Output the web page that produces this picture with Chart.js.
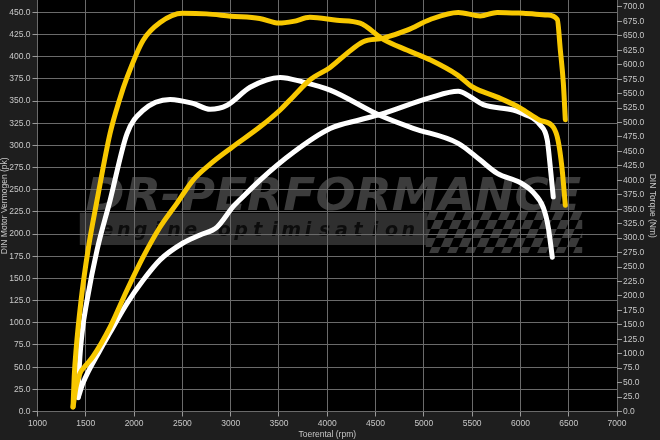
<!DOCTYPE html>
<html>
<head>
<meta charset="utf-8">
<script src="https://cdn.jsdelivr.net/npm/chart.js@4.4.1/dist/chart.umd.min.js"></script>
<style>
  html, body { margin: 0; padding: 0; background: #1e1e1e; }
  #wrap { width: 660px; height: 440px; }
</style>
</head>
<body>
<div id="wrap"><canvas id="dynoChart"></canvas></div>
<script>
// Dyno run: tuned (yellow) vs stock (white)
const tunedPowerRpm = [1368, 1400, 1440, 1500, 1575, 1751, 1927, 2093, 2269, 2445, 2611, 2800, 3015, 3305, 3512, 3647, 3823, 4030, 4206, 4372, 4579, 4828, 5066, 5356, 5584, 5760, 6029, 6278, 6382, 6413, 6444, 6465];
const tunedPowerPk = [5, 28, 43, 52, 62, 95, 137, 174, 208, 235, 261, 280, 298, 321, 340, 355, 374, 388, 404, 417, 421, 430, 442, 450, 446, 450, 449, 447, 442, 408, 371, 329];

const tunedTorqueRpm = [1368, 1380, 1399, 1451, 1523, 1616, 1751, 1850, 1927, 2093, 2269, 2500, 2750, 3000, 3300, 3500, 3650, 3820, 4100, 4340, 4580, 4830, 5070, 5350, 5510, 5760, 6000, 6200, 6340, 6390, 6430, 6465];
const tunedTorqueNm = [8, 60, 106, 192, 279, 365, 481, 540, 578, 642, 673, 689, 688, 684, 680, 672, 675, 682, 677, 672, 644, 625, 608, 582, 561, 544, 525, 504, 492, 469, 422, 357];

const stockPowerRpm = [1422, 1471, 1647, 1751, 1927, 2093, 2269, 2507, 2683, 2859, 3025, 3098, 3305, 3647, 4030, 4341, 4548, 5066, 5356, 5480, 5615, 5926, 5998, 6205, 6278, 6309, 6340];
const stockPowerPk = [16, 32, 69, 89, 122, 148, 171, 190, 199, 208, 231, 239, 261, 292, 319, 329, 335, 354, 361, 355, 346, 340, 337, 323, 306, 276, 242];

const stockTorqueRpm = [1422, 1428, 1461, 1513, 1616, 1751, 1927, 2093, 2373, 2611, 2787, 2963, 3201, 3512, 3750, 4030, 4548, 4890, 5356, 5584, 5760, 5998, 6132, 6236, 6288, 6330];
const stockTorqueNm = [24, 60, 135, 192, 279, 365, 481, 521, 540, 533, 523, 530, 561, 578, 570, 556, 512, 490, 464, 435, 412, 396, 379, 353, 319, 267];

const YELLOW = '#f8c800';
const WHITE = '#ffffff';
const LABEL = '#c8c8c8';
const GRID = '#6a6a6a';

function toPoints(xs, ys) {
  return xs.map((x, i) => ({ x: x, y: ys[i] }));
}

/**
 * Background, black plot area and the faded tuner logo behind the grid
 */
const dynoBackground = {
  id: 'dynoBackground',
  beforeDraw(chart) {
    const { ctx, chartArea: a } = chart;
    const w = a.right - a.left;
    ctx.save();
    ctx.fillStyle = '#1e1e1e';
    ctx.fillRect(0, 0, chart.width, chart.height);
    ctx.fillStyle = '#000000';
    ctx.fillRect(a.left, a.top, w, a.bottom - a.top);

    // grey band under the logo
    const bandX = a.left + w * 0.073;
    const bandY = a.top + 213;
    ctx.fillStyle = '#2f2f2f';
    ctx.fillRect(bandX, bandY, w * 0.6, 32);

    // checkered flag
    ctx.save();
    ctx.beginPath();
    ctx.rect(a.left + w * 0.67, bandY - 4, w * 0.27, 44);
    ctx.clip();
    ctx.fillStyle = '#3a3a3a';
    const sq = 9;
    for (let i = 0; i < 20; i++) {
      for (let j = 0; j < 5; j++) {
        if ((i + j) % 2 === 0) {
          const x0 = a.left + w * 0.67 + i * sq - j * 4;
          const y0 = bandY - 2 + j * sq;
          ctx.beginPath();
          ctx.moveTo(x0 + 4, y0);
          ctx.lineTo(x0 + sq + 4, y0);
          ctx.lineTo(x0 + sq, y0 + sq);
          ctx.lineTo(x0, y0 + sq);
          ctx.closePath();
          ctx.fill();
        }
      }
    }
    ctx.restore();

    // big logo text
    const logo = 'DR-PERFORMANCE';
    ctx.font = 'italic bold 44px "DejaVu Sans"';
    const tw = ctx.measureText(logo).width;
    const targetW = w * 0.855;
    ctx.save();
    ctx.translate(a.left + w * 0.083, a.top + 210);
    ctx.scale(targetW / tw, 1);
    ctx.fillStyle = '#3c3c3c';
    ctx.textBaseline = 'alphabetic';
    ctx.fillText(logo, 0, 0);
    ctx.restore();

    // spaced subtitle
    const sub = 'engine optimisation';
    ctx.font = 'italic bold 19px "DejaVu Sans"';
    ctx.fillStyle = '#0c0c0c';
    ctx.textAlign = 'center';
    let sx = a.left + w * 0.12;
    const step = (w * 0.52) / (sub.length - 1);
    for (const ch of sub) {
      ctx.fillText(ch, sx, a.top + 236);
      sx += step;
    }
    ctx.restore();
  }
};

const tickFont = { family: '"Liberation Sans", Arial, sans-serif', size: 8.5 };

const ctx = document.getElementById('dynoChart').getContext('2d');
const dynoChart = new Chart(ctx, {
  type: 'line',
  data: {
    datasets: [
      {
        label: 'Vermogen tuned',
        data: toPoints(tunedPowerRpm, tunedPowerPk),
        borderColor: YELLOW,
        yAxisID: 'y'
      },
      {
        label: 'Koppel tuned',
        data: toPoints(tunedTorqueRpm, tunedTorqueNm),
        borderColor: YELLOW,
        yAxisID: 'y1'
      },
      {
        label: 'Vermogen standaard',
        data: toPoints(stockPowerRpm, stockPowerPk),
        borderColor: WHITE,
        yAxisID: 'y'
      },
      {
        label: 'Koppel standaard',
        data: toPoints(stockTorqueRpm, stockTorqueNm),
        borderColor: WHITE,
        yAxisID: 'y1'
      }
    ]
  },
  options: {
    responsive: true,
    maintainAspectRatio: false,
    animation: false,
    layout: { padding: 0 },
    elements: {
      line: {
        borderWidth: 5,
        cubicInterpolationMode: 'monotone',
        borderCapStyle: 'round',
        borderJoinStyle: 'round',
        fill: false
      },
      point: { radius: 0, hoverRadius: 0 }
    },
    plugins: {
      legend: { display: false },
      tooltip: { enabled: false }
    },
    scales: {
      x: {
        type: 'linear',
        min: 1000,
        max: 7000,
        ticks: {
          stepSize: 500,
          color: LABEL,
          font: tickFont,
          padding: 2,
          maxRotation: 0,
          autoSkip: false,
          callback: v => String(v)
        },
        grid: { color: GRID, tickColor: '#9a9a9a', tickLength: 5 },
        border: { display: false },
        title: {
          display: true,
          text: 'Toerental (rpm)',
          color: LABEL,
          font: tickFont,
          padding: 0
        },
        afterFit(scale) {
          scale.height = 28.5;
          scale.paddingLeft = 0;
          scale.paddingRight = 0;
        }
      },
      y: {
        position: 'left',
        min: 0,
        max: 464,
        ticks: {
          stepSize: 25,
          includeBounds: false,
          autoSkip: false,
          color: LABEL,
          font: tickFont,
          padding: 2,
          callback: v => v.toFixed(1)
        },
        grid: { color: GRID, tickColor: '#9a9a9a', tickLength: 5 },
        border: { display: false },
        title: {
          display: true,
          text: 'DIN Motor Vermogen (pk)',
          color: LABEL,
          font: tickFont,
          padding: 0
        },
        afterFit(scale) {
          scale.width = 37.5;
          scale.paddingTop = 0;
          scale.paddingBottom = 0;
        }
      },
      y1: {
        position: 'right',
        min: 0,
        max: 712,
        ticks: {
          stepSize: 25,
          includeBounds: false,
          autoSkip: false,
          color: LABEL,
          font: tickFont,
          padding: 1,
          callback: v => v.toFixed(1)
        },
        grid: { drawOnChartArea: false, tickColor: '#9a9a9a', tickLength: 5 },
        border: { display: false },
        title: {
          display: true,
          text: 'DIN Torque (Nm)',
          color: LABEL,
          font: tickFont,
          padding: { top: 3, bottom: 0 }
        },
        afterFit(scale) {
          scale.width = 43;
          scale.paddingTop = 0;
          scale.paddingBottom = 0;
        }
      }
    }
  },
  plugins: [dynoBackground]
});
</script>
</body>
</html>
